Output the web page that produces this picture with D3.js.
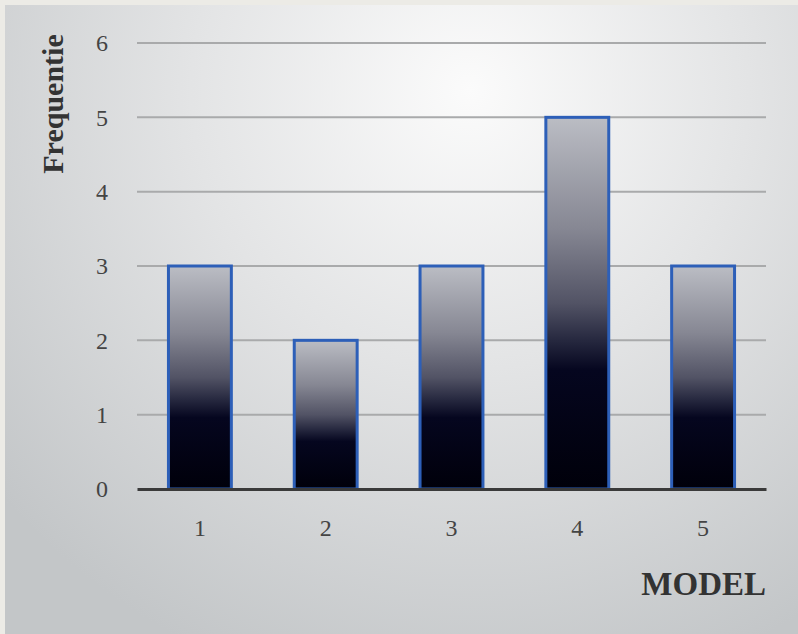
<!DOCTYPE html>
<html>
<head>
<meta charset="utf-8">
<script src="https://cdn.jsdelivr.net/npm/d3@7"></script>
<style>
  html, body { margin: 0; padding: 0; background: #ecebe6; }
  svg { display: block; }
</style>
</head>
<body>
<svg id="chart"></svg>
<script>
const width = 798;
const height = 634;
const margin = {left: 137, right: 32, top: 43, bottom: 145};

// data
const categories = ["1", "2", "3", "4", "5"];
const frequencies = [3, 2, 3, 5, 3];
const yTicks = [0, 1, 2, 3, 4, 5, 6];

const svg = d3.select("#chart")
    .attr("width", width)
    .attr("height", height);

const defs = svg.append("defs");

// panel background: bright in the upper middle, greyer toward the corners
const bg = defs.append("radialGradient")
    .attr("id", "bg")
    .attr("gradientUnits", "userSpaceOnUse")
    .attr("cx", 470).attr("cy", 90).attr("r", 620);
bg.append("stop").attr("offset", "0%").attr("stop-color", "#fbfbfb");
bg.append("stop").attr("offset", "45%").attr("stop-color", "#e3e4e5");
bg.append("stop").attr("offset", "100%").attr("stop-color", "#c3c6c8");

// bar fill: light grey at top, black from about two thirds down
const barGrad = defs.append("linearGradient")
    .attr("id", "barGrad")
    .attr("x1", 0).attr("y1", 0).attr("x2", 0).attr("y2", 1);
[
    [0, "#bbbdc4"],
    [0.3, "#868793"],
    [0.5, "#525365"],
    [0.6, "#26283f"],
    [0.68, "#05061f"],
    [1, "#00000a"]
].forEach(s => {
    barGrad.append("stop").attr("offset", s[0]).attr("stop-color", s[1]);
});

svg.append("rect")
    .attr("x", 5).attr("y", 5)
    .attr("width", width - 5).attr("height", height - 5)
    .attr("fill", "url(#bg)");

const x = d3.scaleBand()
    .domain(categories)
    .range([margin.left, width - margin.right])
    .paddingInner(0.5)
    .paddingOuter(0.25);

const y = d3.scaleLinear()
    .domain([0, 6])
    .range([height - margin.bottom, margin.top]);

// grid lines
svg.append("g")
    .selectAll("line")
    .data(yTicks.filter(d => d > 0))
    .enter().append("line")
        .attr("x1", margin.left)
        .attr("x2", width - margin.right)
        .attr("y1", d => y(d))
        .attr("y2", d => y(d))
        .attr("stroke", "#a9aaab")
        .attr("stroke-width", 2);

// y axis labels
const yAxis = svg.append("g")
    .attr("transform", `translate(${margin.left}, 0)`)
    .call(d3.axisLeft(y).tickValues(yTicks).tickFormat(d3.format("d"))
        .tickSize(0).tickPadding(29));
yAxis.select(".domain").remove();
yAxis.selectAll("text")
    .attr("font-family", "Liberation Serif, serif")
    .attr("font-size", 24)
    .attr("fill", "#444");

// bars
svg.append("g")
    .selectAll("rect")
    .data(frequencies)
    .enter().append("rect")
        .attr("x", (d, i) => x(categories[i]))
        .attr("y", d => y(d))
        .attr("width", x.bandwidth())
        .attr("height", d => y(0) - y(d))
        .attr("fill", "url(#barGrad)")
        .attr("stroke", "#2d5fb8")
        .attr("stroke-width", 3);

// x axis line and labels
const xAxis = svg.append("g")
    .attr("transform", `translate(0, ${y(0)})`)
    .call(d3.axisBottom(x).tickSize(0).tickPadding(30));
xAxis.select(".domain")
    .attr("stroke", "#3a3a3a")
    .attr("stroke-width", 3);
xAxis.selectAll("text")
    .attr("font-family", "Liberation Serif, serif")
    .attr("font-size", 24)
    .attr("fill", "#444");

// axis titles
svg.append("text")
    .attr("transform", `translate(63, 104) rotate(-90)`)
    .attr("text-anchor", "middle")
    .attr("font-family", "Liberation Serif, serif")
    .attr("font-weight", "bold")
    .attr("font-size", 30)
    .attr("fill", "#333")
    .text("Frequentie");

svg.append("text")
    .attr("x", width - margin.right)
    .attr("y", 595)
    .attr("text-anchor", "end")
    .attr("font-family", "Liberation Serif, serif")
    .attr("font-weight", "bold")
    .attr("font-size", 33)
    .attr("fill", "#333")
    .text("MODEL");
</script>
</body>
</html>
